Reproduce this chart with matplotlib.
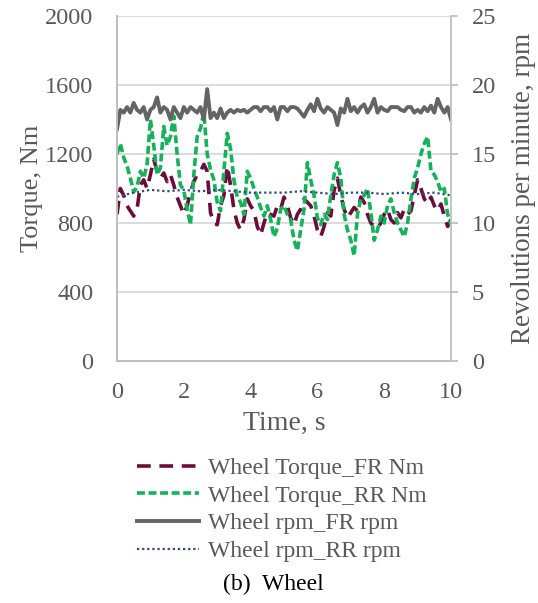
import numpy as np
import matplotlib
matplotlib.use("Agg")
import matplotlib.pyplot as plt

# --- data ---
time_fast = [round(0.1 * i, 1) for i in range(101)]

torque_fr = [850, 1000, 960, 900, 870, 840, 880, 1020, 1050, 1000,
             1080, 1170, 1100, 1060, 1090, 1040, 1080, 1020, 950, 900,
             850, 900, 980, 1040, 1080, 1100, 1140, 1100, 860, 800,
             790, 900, 960, 1130, 1020, 880, 800, 760, 820, 940,
             900, 870, 780, 730, 800, 860, 850, 840, 900, 880,
             950, 900, 830, 790, 850, 880, 940, 920, 900, 840,
             760, 720, 780, 860, 840, 990, 1060, 960, 880, 830,
             860, 890, 870, 950, 920, 850, 800, 780, 770, 800,
             850, 880, 820, 800, 860, 830, 880, 850, 870, 960,
             1050, 1000, 940, 910, 950, 900, 870, 910, 840, 780,
             820]

torque_rr = [1200, 1260, 1180, 1130, 1060, 980, 1010, 1100, 1060, 1140,
             1400, 1250, 1080, 1120, 1360, 1250, 1300, 1420, 1200, 1020,
             990, 880, 790, 1080, 1300, 1350, 1440, 1200, 1110, 1050,
             920, 870, 1100, 1320, 1230, 1050, 950, 920, 850, 1100,
             1060, 1000, 950, 890, 840, 900, 820, 720, 770, 880,
             900, 850, 820, 700, 640, 760, 880, 1150, 1050, 960,
             830, 790, 850, 820, 960, 1080, 1150, 1060, 850, 760,
             700, 610, 850, 940, 960, 1000, 860, 700, 760, 840,
             800, 900, 940, 860, 800, 760, 720, 800, 940, 1060,
             1120, 1200, 1260, 1300, 1100, 1080, 1040, 980, 1000, 850,
             790]

rpm_fr = [16.8, 18.2, 18.0, 18.4, 18.0, 18.7, 18.2, 18.0, 18.4, 17.5,
          18.2, 18.4, 19.1, 18.0, 18.4, 18.2, 17.5, 18.4, 18.0, 17.6,
          18.4, 18.0, 18.4, 18.2, 18.0, 18.4, 17.5, 19.7, 17.6, 18.0,
          17.6, 18.3, 17.6, 18.0, 18.2, 18.0, 18.2, 18.1, 18.2, 18.0,
          18.2, 18.4, 18.4, 18.1, 18.4, 18.4, 18.1, 18.4, 17.5, 18.4,
          18.4, 18.1, 18.4, 18.4, 18.3, 18.0, 17.7, 18.2, 18.6, 18.1,
          19.0, 18.3, 18.0, 18.4, 18.2, 18.0, 17.1, 18.3, 18.0, 19.0,
          18.1, 18.4, 18.0, 18.4, 18.6, 18.0, 18.4, 19.0, 18.0, 18.4,
          18.2, 18.1, 18.4, 18.4, 18.4, 18.2, 18.1, 18.4, 18.4, 18.0,
          18.2, 18.0, 18.4, 18.1, 18.5, 18.0, 19.0, 18.4, 18.0, 18.4,
          17.5]

time_slow = [0.5 * i for i in range(21)]
rpm_rr = [11.9, 12.2, 12.4, 12.3, 12.4, 12.3, 12.4, 12.3, 12.2, 12.2,
          12.2, 12.3, 12.2, 12.1, 12.2, 12.2, 12.1, 12.2, 12.1, 12.2,
          12.0]

torque_ticks = [0, 400, 800, 1200, 1600, 2000]
rpm_ticks = [0, 5, 10, 15, 20, 25]
time_ticks = [0, 2, 4, 6, 8, 10]

text_color = "#595959"
plt.rcParams['font.family'] = ['Liberation Serif', 'DejaVu Serif']

fig = plt.figure(figsize=(5.38, 6.03), dpi=100)
ax = fig.add_axes([117 / 538, 1 - 361 / 603, 334 / 538, 345 / 603])
ax2 = ax.twinx()

# torque on the left axis
l1, = ax.plot(time_fast, torque_fr, color="#6B0D3A", lw=2.6,
              dashes=(3.8, 2.4), label="Wheel Torque_FR Nm")
l2, = ax.plot(time_fast, torque_rr, color="#16B15A", lw=2.6,
              dashes=(2.2, 1.0), label="Wheel Torque_RR Nm")

# rpm on the right axis
l3, = ax2.plot(time_fast, rpm_fr, color="#646464", lw=2.8,
               label="Wheel rpm_FR rpm")
l4, = ax2.plot(time_slow, rpm_rr, color="#2E4A7D", lw=1.6,
               dashes=(1, 1.3), label="Wheel rpm_RR rpm")

ax.set_xlim(0, 10)
ax.set_ylim(0, 2000)
ax2.set_ylim(0, 25)
ax.set_xticks(time_ticks)
ax.set_yticks(torque_ticks)
ax2.set_yticks(rpm_ticks)

ax.grid(axis='y', color="#D9D9D9", lw=1.3)
ax.set_axisbelow(True)
for a in (ax, ax2):
    for side in a.spines:
        a.spines[side].set_color("#BFBFBF")
        a.spines[side].set_linewidth(1.3)
    a.spines['top'].set_visible(False)
ax.spines['right'].set_visible(False)

ax.tick_params(axis='y', length=0, pad=17, labelsize=17.5, labelcolor=text_color)
ax.tick_params(axis='x', length=0, pad=15, labelsize=17.5, labelcolor=text_color)
ax2.tick_params(axis='y', length=5, width=1.3, color="#BFBFBF", pad=10,
                labelsize=17.5, labelcolor=text_color)

ax.set_xlabel("Time, s", fontsize=20, color=text_color, labelpad=6)
ax.set_ylabel("Torque, Nm", fontsize=19, color=text_color)
ax.yaxis.set_label_coords(-0.222, 0.5)
ax2.set_ylabel("Revolutions per minute, rpm", fontsize=19.5, color=text_color)
ax2.yaxis.set_label_coords(1.18, 0.5)

leg = fig.legend(handles=[l1, l2, l3, l4], loc="upper left",
                 bbox_to_anchor=(128 / 538, 1 - 448 / 603), frameon=False,
                 fontsize=17, handlelength=2.6, handletextpad=0.4,
                 labelspacing=0.26, borderaxespad=0)
for t in leg.get_texts():
    t.set_color(text_color)

fig.text(273 / 538, 1 - 584 / 603, "(b)  Wheel", fontsize=17, color="black",
         ha="center", va="center")

fig.savefig("out.png", dpi=100)
